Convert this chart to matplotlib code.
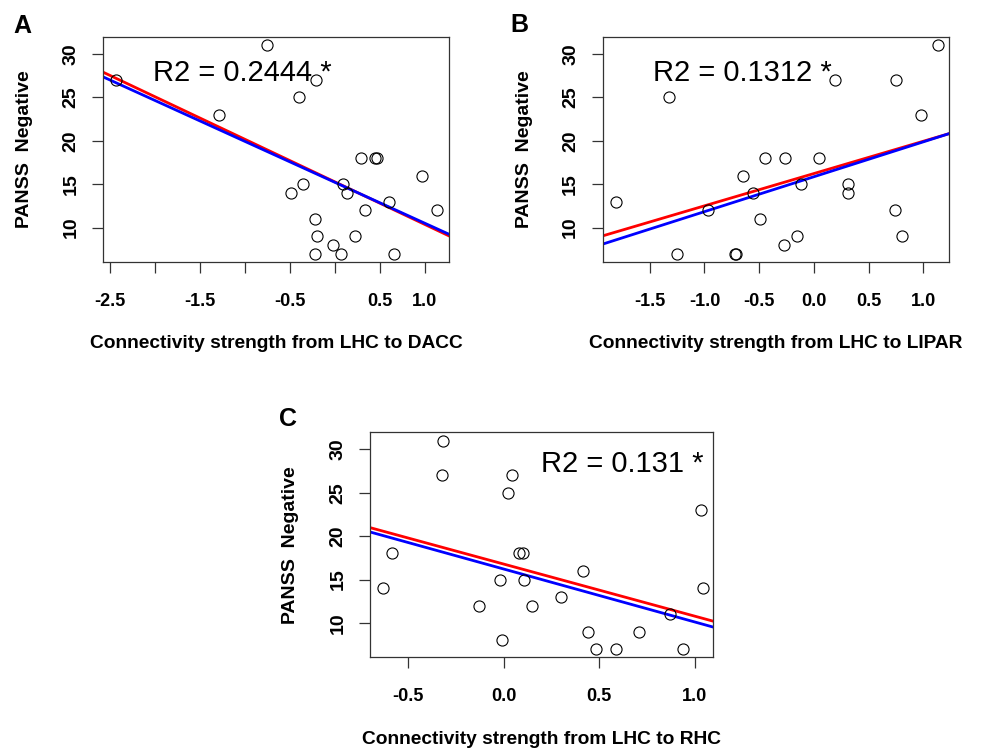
import matplotlib
matplotlib.use('Agg')
import matplotlib.pyplot as plt

plt.rcParams['font.family'] = ['Liberation Sans', 'DejaVu Sans']

# 数据：三个面板的连接强度与 PANSS 阴性分
dacc_x = [-2.43, -0.76, -1.29, -0.40, -0.21, 0.29, 0.45, 0.47, 0.97, -0.36, -0.49, 0.09,
          0.13, 0.60, 0.34, 1.14, -0.22, -0.20, 0.22, -0.02, -0.22, 0.07, 0.66]
dacc_y = [27, 31, 23, 25, 27, 18, 18, 18, 16, 15, 14, 15, 14, 13, 12, 12, 11, 9, 9, 8, 7, 7, 7]

lipar_x = [-1.81, -1.32, -1.25, -0.97, -0.72, -0.71, -0.65, -0.56, -0.49, -0.45, -0.27, -0.26,
           -0.15, -0.12, 0.05, 0.19, 0.31, 0.31, 0.74, 0.75, 0.81, 0.98, 1.13]
lipar_y = [13, 25, 7, 12, 7, 7, 16, 14, 11, 18, 8, 18, 9, 15, 18, 27, 15, 14, 12, 27, 9, 23, 31]

rhc_x = [-0.63, -0.585, -0.319, -0.322, -0.127, -0.017, -0.010, 0.023, 0.044, 0.082, 0.100,
         0.105, 0.149, 0.300, 0.417, 0.44, 0.483, 0.588, 0.708, 0.871, 0.940, 1.035, 1.045]
rhc_y = [14, 18, 31, 27, 12, 15, 8, 25, 27, 18, 18, 15, 12, 13, 16, 9, 7, 7, 9, 11, 7, 23, 14]

# 回归线 (斜率, 截距)：红线和蓝线
dacc_red = (-4.90, 15.27)
dacc_blue = (-4.71, 15.22)
lipar_red = (3.72, 16.23)
lipar_blue = (4.02, 15.86)
rhc_red = (-6.00, 16.78)
rhc_blue = (-6.10, 16.21)

r2_texts = ['R2 = 0.2444 *', 'R2 = 0.1312 *', 'R2 = 0.131 *']
x_labels = ['Connectivity strength from LHC to DACC',
            'Connectivity strength from LHC to LIPAR',
            'Connectivity strength from LHC to RHC']

dacc_ticks = [-2.5, -2.0, -1.5, -1.0, -0.5, 0.0, 0.5, 1.0]
dacc_ticklabels = ['-2.5', '', '-1.5', '', '-0.5', '', '0.5', '1.0']
lipar_ticks = [-1.5, -1.0, -0.5, 0.0, 0.5, 1.0]
lipar_ticklabels = ['-1.5', '-1.0', '-0.5', '0.0', '0.5', '1.0']
rhc_ticks = [-0.5, 0.0, 0.5, 1.0]
rhc_ticklabels = ['-0.5', '0.0', '0.5', '1.0']
y_ticks = [10, 15, 20, 25, 30]

fig = plt.figure(figsize=(9.81, 7.5), dpi=100)
fig.patch.set_facecolor('white')

W, H = 981.0, 750.0


def make_axes(left, top, right, bottom):
    return fig.add_axes([left / W, 1 - bottom / H, (right - left) / W, (bottom - top) / H])


axA = make_axes(103, 37, 449, 262)
axB = make_axes(602.7, 37, 949, 262)
axC = make_axes(370, 432.3, 712.7, 657.3)

panels = [
    (axA, dacc_x, dacc_y, dacc_red, dacc_blue, dacc_ticks, dacc_ticklabels, (-2.58, 1.27),
     (-1.03, 27.8), -0.228, -0.364),
    (axB, lipar_x, lipar_y, lipar_red, lipar_blue, lipar_ticks, lipar_ticklabels, (-1.93, 1.235),
     (-0.654, 27.8), -0.227, -0.364),
    (axC, rhc_x, rhc_y, rhc_red, rhc_blue, rhc_ticks, rhc_ticklabels, (-0.70, 1.094),
     (0.62, 28.27), -0.232, -0.367),
]

for i, (ax, xs, ys, red, blue, ticks, ticklabels, xlim, txt_pos, ylab_x, xlab_y) in enumerate(panels):
    ax.plot(xs, ys, 'o', ms=8, mfc='none', mec='black', mew=0.8, zorder=3)
    ax.axline((0, red[1]), slope=red[0], color='red', lw=2, zorder=2)
    ax.axline((0, blue[1]), slope=blue[0], color='blue', lw=2, zorder=2)
    ax.set_xlim(*xlim)
    ax.set_ylim(6.04, 31.96)

    ax.set_xticks(ticks)
    ax.set_xticklabels(ticklabels, fontsize=13, fontweight='bold')
    ax.set_yticks(y_ticks)
    ax.set_yticklabels([str(t) for t in y_ticks], fontsize=14, fontweight='bold',
                       rotation=90, va='center')
    ax.tick_params(axis='x', direction='out', length=8, width=0.9, pad=14, color='#333333')
    ax.tick_params(axis='y', direction='out', length=8, width=0.9, pad=9, color='#333333')
    for sp in ax.spines.values():
        sp.set_color('#333333')
        sp.set_linewidth(0.9)

    ax.text(txt_pos[0], txt_pos[1], r2_texts[i], fontsize=21, ha='center', va='center')

    ax.set_xlabel(x_labels[i], fontsize=13.8, fontweight='bold')
    ax.xaxis.set_label_coords(0.5, xlab_y)
    ax.xaxis.label.set_va('center')
    ax.set_ylabel('PANSS  Negative', fontsize=14, fontweight='bold')
    ax.yaxis.set_label_coords(ylab_x, 0.5)
    ax.yaxis.label.set_va('center')

# 面板字母
fig.text(22.7 / W, 1 - 26 / H, 'A', fontsize=18, fontweight='bold', ha='center', va='center')
fig.text(519.5 / W, 1 - 25 / H, 'B', fontsize=18, fontweight='bold', ha='center', va='center')
fig.text(288 / W, 1 - 419 / H, 'C', fontsize=18, fontweight='bold', ha='center', va='center')

fig.savefig('out.png', dpi=100, facecolor='white')
